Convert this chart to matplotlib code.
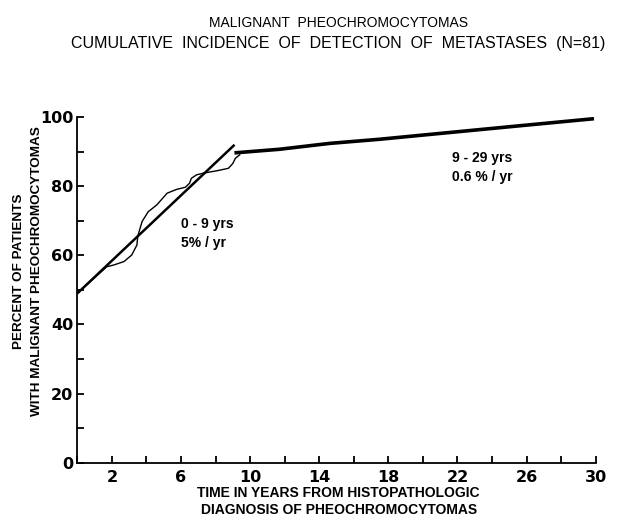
import matplotlib
matplotlib.use("Agg")
import matplotlib.pyplot as plt
from matplotlib.ticker import MultipleLocator, FixedLocator

# fitted line 0-9 yrs
fit_x = [0.0, 9.1]
fit_y = [49.0, 92.0]

# observed cumulative incidence, first 9 years
obs_x = [0.0, 1.7, 2.1, 2.7, 3.15, 3.45, 3.5, 3.75, 4.1, 4.6, 5.2, 5.75, 6.25,
         6.5, 6.6, 6.9, 7.3, 8.1, 8.75, 9.0, 9.15, 9.4]
obs_y = [49.0, 56.7, 57.2, 58.2, 60.1, 63.0, 65.6, 69.8, 72.6, 74.6, 78.0,
         79.1, 79.7, 80.9, 82.3, 83.3, 83.8, 84.5, 85.2, 86.6, 88.1, 89.1]

# later period 9-29 yrs
late_x = [9.2, 11.7, 14.6, 17.5, 20.4, 25.6, 29.8]
late_y = [89.7, 90.7, 92.4, 93.6, 95.0, 97.5, 99.5]

x_ticklabels = [2, 6, 10, 14, 18, 22, 26, 30]
y_ticklabels = [0, 20, 40, 60, 80, 100]

fig = plt.figure(figsize=(6.27, 5.22), dpi=100)
ax = fig.add_axes([0.1233, 0.1136, 0.8267, 0.662])

ax.plot(fit_x, fit_y, color="black", lw=1.8, solid_capstyle="butt")
ax.plot(obs_x, obs_y, color="black", lw=1.0)
ax.plot(late_x, late_y, color="black", lw=2.6)

ax.set_xlim(0, 30)
ax.set_ylim(0, 100)
for s in ["top", "right"]:
    ax.spines[s].set_visible(False)
for s in ["left", "bottom"]:
    ax.spines[s].set_linewidth(1.3)

ax.xaxis.set_major_locator(FixedLocator(x_ticklabels))
ax.xaxis.set_minor_locator(MultipleLocator(2))
ax.yaxis.set_major_locator(FixedLocator(y_ticklabels))
ax.yaxis.set_minor_locator(MultipleLocator(10))
ax.tick_params(which="both", direction="in", length=5, width=1.3)
ax.tick_params(axis="x", pad=5)
ax.tick_params(axis="y", pad=3)
for lab in ax.get_xticklabels() + ax.get_yticklabels():
    lab.set_fontsize(11.5)
    lab.set_fontweight("bold")
    lab.set_family("DejaVu Sans")

ax.text(6.0, 71, "0 - 9 yrs\n5% / yr", fontsize=10, fontweight="bold",
        family="Liberation Sans", va="top", ha="left", linespacing=1.45)
ax.text(21.7, 90.3, "9 - 29 yrs\n0.6 % / yr", fontsize=10, fontweight="bold",
        family="Liberation Sans", va="top", ha="left", linespacing=1.45)

fig.text(0.54, 0.956, "MALIGNANT  PHEOCHROMOCYTOMAS", ha="center", va="center",
         fontsize=10, family="Liberation Sans")
fig.text(0.54, 0.916, "CUMULATIVE  INCIDENCE  OF  DETECTION  OF  METASTASES  (N=81)",
         ha="center", va="center", fontsize=11.5, family="Liberation Sans")

fig.text(0.54, 0.039, "TIME IN YEARS FROM HISTOPATHOLOGIC\nDIAGNOSIS OF PHEOCHROMOCYTOMAS",
         ha="center", va="center", fontsize=10, fontweight="bold",
         family="Liberation Sans", linespacing=1.25)
fig.text(0.045, 0.48, "PERCENT OF PATIENTS\nWITH MALIGNANT PHEOCHROMOCYTOMAS",
         ha="center", va="center", rotation=90, fontsize=9.7, fontweight="bold",
         family="Liberation Sans", linespacing=1.65)

fig.savefig("out.png", dpi=100)
